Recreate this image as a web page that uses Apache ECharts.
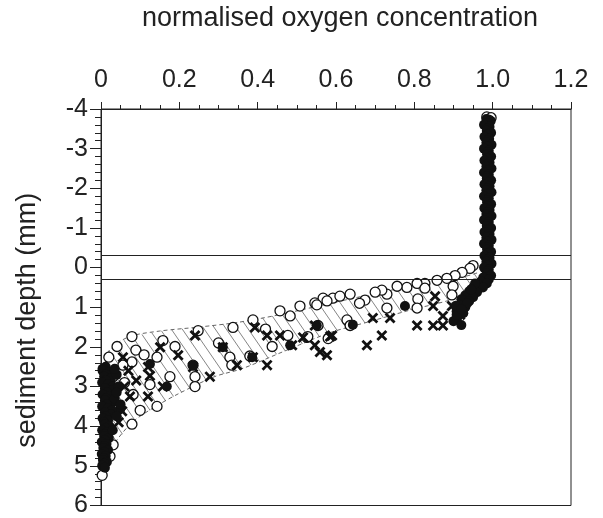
<!DOCTYPE html>
<html>
<head>
<meta charset="utf-8">
<script src="https://cdn.jsdelivr.net/npm/echarts@6/dist/echarts.min.js"></script>
<style>
html, body { margin: 0; padding: 0; background: #fff; }
#main { width: 603px; height: 518px; }
</style>
</head>
<body>
<div id="main"></div>
<script>
// tick labels
const xTickLabels = ['0', '0.2', '0.4', '0.6', '0.8', '1.0', '1.2'];
const yTickLabels = ['-4', '-3', '-2', '-1', '0', '1', '2', '3', '4', '5', '6'];

// sediment-water interface band (mm)
const interfaceLines = [-0.3, 0.3];

// envelope of the profiles [concentration, depth]
const upperBound = [
  [0.005, 2.5], [0.02, 2.1], [0.07, 1.75], [0.15, 1.6], [0.25, 1.5], [0.35, 1.38],
  [0.45, 1.2], [0.55, 0.98], [0.65, 0.76], [0.75, 0.55], [0.85, 0.35], [0.93, 0.22], [0.965, 0.12]
];
const lowerBound = [
  [0.015, 4.9], [0.03, 4.5], [0.08, 3.9], [0.14, 3.5], [0.2, 3.17], [0.29, 2.75], [0.36, 2.55],
  [0.47, 2.1], [0.585, 1.64], [0.69, 1.35], [0.79, 1.07], [0.88, 0.85], [0.94, 0.65], [0.98, 0.4]
];

// open circles
const circles = [
  [0.985, -3.8], [0.996, -3.78], [0.99, -3.72],
  [0.95, -0.05], [0.942, 0.02], [0.922, 0.12], [0.904, 0.2], [0.883, 0.27], [0.858, 0.32], [0.899, 0.47], [0.896, 0.69],
  [0.827, 0.40], [0.807, 0.40], [0.827, 0.52], [0.781, 0.50], [0.756, 0.47], [0.730, 0.67], [0.717, 0.57], [0.809, 0.79],
  [0.674, 0.82], [0.636, 0.67], [0.592, 0.77], [0.567, 0.77], [0.546, 0.89], [0.508, 0.97], [0.730, 1.02], [0.807, 1.02],
  [0.628, 1.32], [0.636, 1.46], [0.526, 1.76], [0.554, 1.46], [0.577, 0.84], [0.551, 0.94], [0.483, 1.22], [0.457, 1.09],
  [0.388, 1.32], [0.477, 1.71], [0.437, 1.99], [0.528, 1.74], [0.580, 1.79], [0.380, 2.23], [0.337, 1.51], [0.329, 2.26],
  [0.334, 2.46], [0.248, 1.59], [0.240, 2.75], [0.240, 3.00], [0.235, 2.46], [0.189, 1.99], [0.158, 1.84], [0.176, 2.75],
  [0.143, 2.26], [0.143, 3.50], [0.125, 2.95], [0.082, 3.20], [0.079, 3.95], [0.079, 1.74], [0.041, 1.99], [0.020, 2.26],
  [0.089, 2.08], [0.079, 2.38], [0.031, 2.75], [0.056, 2.46], [0.031, 4.47], [0.023, 4.76], [0.003, 5.24],
  [0.61, 0.72], [0.66, 0.9], [0.7, 0.62], [0.42, 1.55], [0.3, 1.9], [0.11, 2.2], [0.06, 2.9], [0.1, 3.6]
];

// crosses
const crosses = [
  [0.056, 2.26], [0.120, 2.51], [0.125, 2.73], [0.158, 3.00], [0.120, 3.25], [0.074, 3.25], [0.054, 3.62], [0.151, 2.01],
  [0.197, 2.21], [0.235, 2.51], [0.240, 1.71], [0.278, 2.75], [0.311, 2.01], [0.347, 2.46], [0.388, 2.26], [0.393, 1.51],
  [0.424, 1.71], [0.424, 2.46], [0.457, 1.71], [0.488, 1.96], [0.546, 1.46], [0.546, 1.96], [0.577, 2.21], [0.585, 1.74],
  [0.694, 1.27], [0.738, 1.27], [0.807, 1.46], [0.848, 1.46], [0.873, 1.46], [0.853, 0.72], [0.848, 0.97], [0.873, 1.22],
  [0.717, 1.71], [0.679, 1.96], [0.590, 1.71], [0.559, 2.13], [0.516, 1.76], [0.896, 0.97], [0.917, 1.19],
  [0.06, 3.0], [0.09, 2.85], [0.045, 3.9], [0.03, 3.3], [0.07, 2.6]
];

// filled dots
const dots = [
  // water column
  [0.984, -3.75], [0.995, -3.7], [0.987, -3.65], [0.978, -3.6], [0.992, -3.55], [0.986, -3.5], [0.985, -3.45], [0.996, -3.4],
  [0.987, -3.35], [0.979, -3.3], [0.991, -3.25], [0.986, -3.2], [0.984, -3.15], [0.997, -3.1], [0.987, -3.05], [0.978, -3.0],
  [0.99, -2.95], [0.986, -2.9], [0.986, -2.85], [0.996, -2.8], [0.987, -2.75], [0.979, -2.7], [0.992, -2.65], [0.986, -2.6],
  [0.984, -2.55], [0.997, -2.5], [0.987, -2.45], [0.978, -2.4], [0.99, -2.35], [0.986, -2.3], [0.985, -2.25], [0.996, -2.2],
  [0.987, -2.15], [0.979, -2.1], [0.992, -2.05], [0.986, -2.0], [0.984, -1.95], [0.997, -1.9], [0.987, -1.85], [0.978, -1.8],
  [0.99, -1.75], [0.986, -1.7], [0.986, -1.65], [0.996, -1.6], [0.987, -1.55], [0.979, -1.5], [0.992, -1.45], [0.986, -1.4],
  [0.984, -1.35], [0.997, -1.3], [0.987, -1.25], [0.978, -1.2], [0.99, -1.15], [0.986, -1.1], [0.985, -1.05], [0.996, -1.0],
  [0.987, -0.95], [0.979, -0.9], [0.992, -0.85], [0.986, -0.8], [0.984, -0.75], [0.997, -0.7], [0.987, -0.65], [0.978, -0.6],
  [0.99, -0.55], [0.986, -0.5], [0.986, -0.45], [0.996, -0.4], [0.987, -0.35], [0.979, -0.3], [0.992, -0.25], [0.986, -0.2],
  [0.984, -0.15], [0.997, -0.1], [0.987, -0.05], [0.978, 0.0], [0.99, 0.05], [0.986, 0.1], [0.985, 0.15], [0.996, 0.2],
  [0.976, 0.25], [0.99, 0.3], [0.97, 0.35], [0.985, 0.4],
  // bend
  [0.965, 0.45], [0.95, 0.5], [0.975, 0.5], [0.94, 0.6], [0.96, 0.62], [0.93, 0.7], [0.95, 0.75], [0.92, 0.8], [0.94, 0.85],
  [0.915, 0.95], [0.93, 1.0], [0.908, 1.1], [0.925, 1.15], [0.91, 1.25], [0.9, 1.35], [0.92, 1.45], [0.905, 0.97], [0.908, 1.19],
  [0.955, 0.4], [0.945, 0.55], [0.935, 0.9], [0.92, 1.05],
  // inside band
  [0.776, 0.97], [0.643, 1.44], [0.551, 1.46], [0.483, 1.96], [0.386, 2.26], [0.311, 2.01], [0.235, 2.46], [0.125, 2.43],
  [0.168, 3.0], [0.049, 3.57],
  // anoxic column
  [0.012, 2.5], [0.004, 2.55], [0.004, 2.6], [0.02, 2.65], [0.012, 2.7], [0.008, 2.75], [0.025, 2.8], [0.012, 2.85],
  [0.003, 2.9], [0.018, 2.95], [0.03, 3.0], [0.01, 3.05], [0.028, 3.1], [0.015, 3.15], [0.004, 3.2], [0.02, 3.25],
  [0.012, 3.3], [0.01, 3.35], [0.03, 3.4], [0.015, 3.45], [0.003, 3.5], [0.018, 3.55], [0.028, 3.6], [0.01, 3.65],
  [0.025, 3.7], [0.012, 3.75], [0.004, 3.8], [0.018, 3.85], [0.008, 3.9], [0.01, 3.95], [0.022, 4.0], [0.012, 4.05],
  [0.003, 4.1], [0.016, 4.15], [0.01, 4.2], [0.008, 4.25], [0.02, 4.3], [0.01, 4.35], [0.002, 4.4], [0.014, 4.45],
  [0.008, 4.5], [0.006, 4.55], [0.018, 4.6], [0.008, 4.65], [0.002, 4.7], [0.012, 4.75], [0.006, 4.8], [0.005, 4.85],
  [0.015, 4.9], [0.008, 4.95], [0.003, 5.0], [0.01, 5.05],
  [0.04, 2.7], [0.045, 3.0], [0.035, 3.3], [0.05, 3.45], [0.04, 3.75], [0.035, 2.55], [0.04, 3.15], [0.03, 4.1]
];

const font = 'Liberation Sans';
const axisColor = '#222';

// diagonal hatching for the envelope
const hatch = document.createElement('canvas');
hatch.width = 11;
hatch.height = 16;
const hctx = hatch.getContext('2d');
hctx.strokeStyle = '#666';
hctx.lineWidth = 0.8;
hctx.beginPath();
hctx.moveTo(0, 0); hctx.lineTo(11, 16);
hctx.moveTo(-11, 0); hctx.lineTo(0, 16);
hctx.moveTo(11, 0); hctx.lineTo(22, 16);
hctx.stroke();

const crossPath = 'path://M1.8,0 L5,3.2 L8.2,0 L10,1.8 L6.8,5 L10,8.2 L8.2,10 L5,6.8 L1.8,10 L0,8.2 L3.2,5 L0,1.8 Z';

// short outward ticks drawn by a second, label-less axis
function minorAxis(base, interval, len) {
  return Object.assign({
    type: 'value',
    interval: interval,
    axisLine: { show: false, onZero: false },
    axisTick: { length: len, lineStyle: { color: axisColor } },
    axisLabel: { show: false },
    splitLine: { show: false }
  }, base);
}

const chart = echarts.init(document.getElementById('main'));

const option = {
  animation: false,
  backgroundColor: '#fff',
  grid: {
    left: 101,
    right: 32,
    top: 108,
    bottom: 7,
    show: true,
    borderColor: axisColor,
    borderWidth: 1
  },
  xAxis: [
    {
      type: 'value',
      position: 'top',
      min: 0,
      max: 1.2,
      interval: 0.2,
      name: 'normalised oxygen concentration',
      nameLocation: 'middle',
      nameGap: 77,
      nameTextStyle: { fontFamily: font, fontSize: 27, color: axisColor, padding: [0, 0, 0, 8] },
      axisLine: { onZero: false, lineStyle: { color: axisColor, width: 1 } },
      axisTick: { length: 7, lineStyle: { color: axisColor } },
      splitLine: { show: false },
      axisLabel: {
        margin: 16,
        fontFamily: font,
        fontSize: 25,
        color: axisColor,
        formatter: function (v) { return xTickLabels[Math.round(v / 0.2)]; }
      },
      z: 3
    },
    minorAxis({ position: 'top', min: 0, max: 1.2 }, 0.05, 4)
  ],
  yAxis: [
    {
      type: 'value',
      inverse: true,
      min: -4,
      max: 6,
      interval: 1,
      name: 'sediment depth (mm)',
      nameLocation: 'middle',
      nameRotate: 90,
      nameGap: 60,
      nameTextStyle: { fontFamily: font, fontSize: 27, color: axisColor, padding: [0, 26, 0, 0] },
      axisLine: { onZero: false, lineStyle: { color: axisColor, width: 1 } },
      axisTick: { length: 11, lineStyle: { color: axisColor } },
      splitLine: { show: false },
      axisLabel: {
        margin: 13,
        fontFamily: font,
        fontSize: 25,
        color: axisColor,
        formatter: function (v) { return yTickLabels[Math.round(v + 4)]; }
      },
      z: 3
    },
    minorAxis({ position: 'left', inverse: true, min: -4, max: 6 }, 0.2, 6)
  ],
  series: [
    {
      type: 'custom',
      silent: true,
      data: [[0, 0]],
      renderItem: function (params, api) {
        const pts = upperBound.map(function (p) { return api.coord(p); })
          .concat(lowerBound.slice().reverse().map(function (p) { return api.coord(p); }));
        return {
          type: 'polygon',
          shape: { points: pts },
          style: { fill: { image: hatch, repeat: 'repeat' }, stroke: null }
        };
      },
      z: 1
    },
    {
      type: 'line',
      data: upperBound,
      smooth: 0.3,
      symbol: 'none',
      lineStyle: { color: '#555', width: 0.9, type: [4, 3] },
      z: 2
    },
    {
      type: 'line',
      data: lowerBound,
      smooth: 0.3,
      symbol: 'none',
      lineStyle: { color: '#555', width: 0.9, type: [4, 3] },
      markLine: {
        silent: true,
        symbol: 'none',
        label: { show: false },
        lineStyle: { color: axisColor, width: 1, type: 'solid' },
        data: interfaceLines.map(function (d) { return { yAxis: d }; })
      },
      z: 2
    },
    {
      type: 'scatter',
      data: circles,
      symbol: 'circle',
      symbolSize: 10,
      itemStyle: { color: '#fff', borderColor: '#111', borderWidth: 1.3, opacity: 1 },
      z: 3
    },
    {
      type: 'scatter',
      data: crosses,
      symbol: crossPath,
      symbolSize: 11,
      itemStyle: { color: '#111', opacity: 1 },
      z: 4
    },
    {
      type: 'scatter',
      data: dots,
      symbol: 'circle',
      symbolSize: 10,
      itemStyle: { color: '#111', opacity: 1 },
      z: 5
    }
  ]
};

chart.setOption(option);
</script>
</body>
</html>
